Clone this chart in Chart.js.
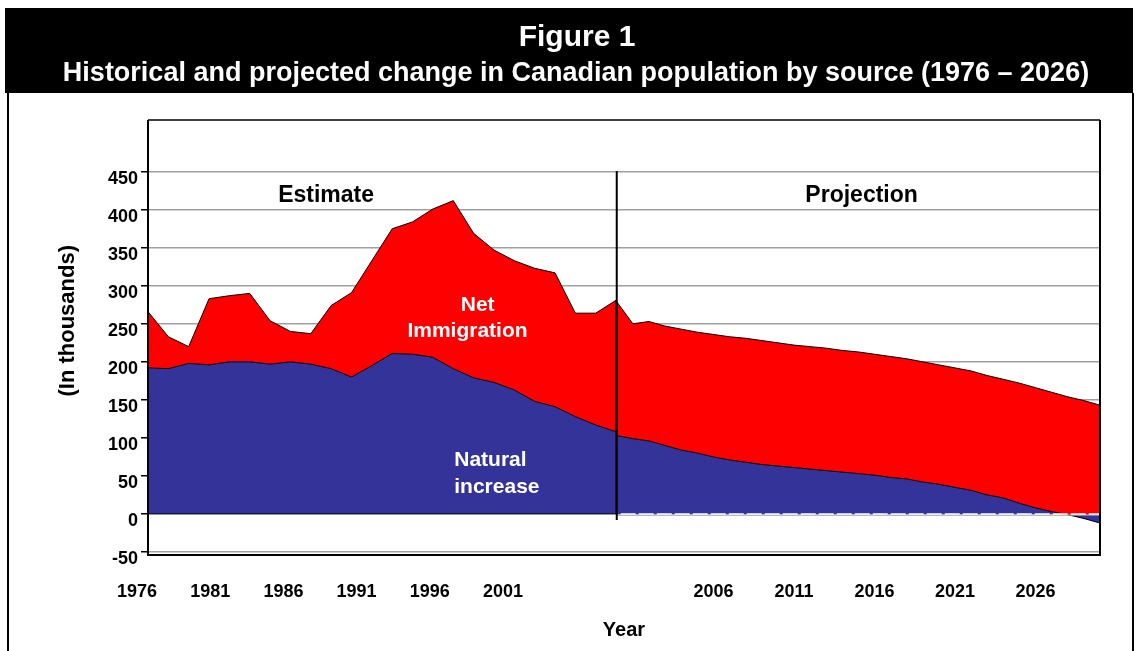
<!DOCTYPE html>
<html>
<head>
<meta charset="utf-8">
<title>Figure 1</title>
<script src="https://cdn.jsdelivr.net/npm/chart.js@4.4.0/dist/chart.umd.min.js"></script>
<style>
  html, body { margin: 0; padding: 0; background: #fff; }
  #chart { display: block; }
</style>
</head>
<body>
<canvas id="chart" width="1141" height="651"></canvas>
<script>
// Components of population growth, thousands per year
const estYears = [1976, 1977, 1978, 1979, 1980, 1981, 1982, 1983, 1984, 1985, 1986, 1987,
                  1988, 1989, 1990, 1991, 1992, 1993, 1994, 1995, 1996, 1997, 1998, 1999];
const estNatural = [192, 191, 198, 196, 200, 200, 197, 200, 197, 191, 180, 195,
                    211, 210, 206, 191, 179, 173, 163, 148, 141, 128, 117, 108];
const estNetImmigration = [74, 42, 22, 87, 87, 90, 57, 40, 40, 83, 111, 138,
                           164, 174, 195, 221, 190, 174, 170, 175, 176, 136, 147, 173];

const projYears = [2000, 2001, 2002, 2003, 2004, 2005, 2006, 2007, 2008, 2009, 2010,
                   2011, 2012, 2013, 2014, 2015, 2016, 2017, 2018, 2019, 2020,
                   2021, 2022, 2023, 2024, 2025, 2026, 2027, 2028, 2029, 2030];
const projNatural = [103, 99, 96, 90, 84, 80, 75, 71, 68, 65, 63,
                     61, 59, 57, 55, 53, 51, 48, 46, 42, 39,
                     35, 31, 25, 21, 14, 8, 3, -1, -6, -12];
const projNetImmigration = [176, 151, 157, 157, 159, 159, 161, 162, 163, 163, 162,
                            161, 161, 161, 160, 160, 159, 159, 158, 158, 157,
                            157, 157, 157, 156, 158, 158, 157, 155, 155, 155];

const estTickYears = [1976, 1981, 1986, 1991, 1996, 2001];
const projTickYears = [2006, 2011, 2016, 2021, 2026];
const yTicks = [-50, 0, 50, 100, 150, 200, 250, 300, 350, 400, 450];

const FONT = '"Liberation Sans", Arial, Helvetica, sans-serif';
const RED = '#ff0000';
const BLUE = '#333399';
const TICK_FONT = { family: FONT, size: 18, weight: 'bold' };
const TICK_PAD = 26;

const pts = (xs, ys) => xs.map((x, i) => ({ x: x, y: ys[i] }));

// text placed inside the plot, in data units of the given x scale
const areaLabels = [
  { text: 'Estimate',    scale: 'xEst',  x: 1984.75, y: 418, color: '#000', size: 23, align: 'center' },
  { text: 'Projection',  scale: 'xProj', x: 2015.2,  y: 418, color: '#000', size: 23, align: 'center' },
  { text: 'Net',         scale: 'xEst',  x: 1992.2,  y: 275, color: '#fff', size: 21, align: 'center' },
  { text: 'Immigration', scale: 'xEst',  x: 1991.7,  y: 240, color: '#fff', size: 21, align: 'center' },
  { text: 'Natural',     scale: 'xEst',  x: 1991.05, y: 70,  color: '#fff', size: 21, align: 'left' },
  { text: 'increase',    scale: 'xEst',  x: 1991.05, y: 35,  color: '#fff', size: 21, align: 'left' }
];

const decor = {
  id: 'decor',
  beforeDraw(chart) {
    const ctx = chart.ctx;
    ctx.save();
    ctx.fillStyle = '#fff';
    ctx.fillRect(0, 0, chart.width, chart.height);
    // header band
    ctx.fillStyle = '#000';
    ctx.fillRect(5, 8, 1128, 85);
    ctx.strokeStyle = '#000';
    ctx.lineWidth = 2;
    ctx.beginPath();
    ctx.moveTo(8, 93); ctx.lineTo(8, chart.height);
    ctx.moveTo(1133, 93); ctx.lineTo(1133, chart.height);
    ctx.stroke();
    ctx.fillStyle = '#fff';
    ctx.textAlign = 'center';
    ctx.textBaseline = 'middle';
    ctx.font = 'bold 30px ' + FONT;
    ctx.fillText('Figure 1', 577, 38);
    ctx.font = 'bold 27px ' + FONT;
    ctx.fillText('Historical and projected change in Canadian population by source (1976 \u2013 2026)', 576, 74);
    ctx.restore();
  },
  afterDatasetsDraw(chart) {
    const ctx = chart.ctx;
    const a = chart.chartArea;
    const { y, xEst, xProj, xLab } = chart.scales;
    const y0 = y.getPixelForValue(0);
    const last = estYears.length - 1;
    const xEstEnd = xEst.getPixelForValue(estYears[last]);
    const xSplit = xProj.getPixelForValue(projYears[0]);
    ctx.save();

    // baseline under the estimates
    ctx.strokeStyle = '#000';
    ctx.lineWidth = 1;
    ctx.beginPath();
    ctx.moveTo(a.left, y0); ctx.lineTo(xEstEnd, y0);
    ctx.moveTo(xEstEnd, y.getPixelForValue(estNatural[last] + estNetImmigration[last]));
    ctx.lineTo(xEstEnd, y0);
    ctx.stroke();

    // dashed zero line across the projection
    ctx.strokeStyle = '#a0a0a0';
    ctx.lineWidth = 1.5;
    ctx.beginPath();
    ctx.moveTo(xSplit, y0 + 1); ctx.lineTo(a.right, y0 + 1);
    ctx.stroke();
    ctx.strokeStyle = '#fff';
    ctx.setLineDash([15, 3]);
    ctx.beginPath();
    ctx.moveTo(xSplit + 4, y0); ctx.lineTo(a.right, y0);
    ctx.stroke();
    ctx.setLineDash([]);

    // estimate / projection divider
    ctx.strokeStyle = '#000';
    ctx.lineWidth = 2;
    ctx.beginPath();
    ctx.moveTo(xSplit, y.getPixelForValue(451));
    ctx.lineTo(xSplit, y.getPixelForValue(-8));
    ctx.stroke();

    // plot frame
    ctx.lineWidth = 1.5;
    ctx.beginPath();
    ctx.moveTo(a.left, a.top); ctx.lineTo(a.right, a.top);
    ctx.stroke();
    ctx.lineWidth = 2;
    ctx.beginPath();
    ctx.moveTo(a.left, a.top); ctx.lineTo(a.left, a.bottom);
    ctx.lineTo(a.right, a.bottom); ctx.lineTo(a.right, a.top);
    ctx.stroke();

    // region and series labels
    ctx.textBaseline = 'middle';
    areaLabels.forEach(l => {
      ctx.font = 'bold ' + l.size + 'px ' + FONT;
      ctx.fillStyle = l.color;
      ctx.textAlign = l.align;
      ctx.fillText(l.text, chart.scales[l.scale].getPixelForValue(l.x), y.getPixelForValue(l.y));
    });

    // year labels under the estimates, on the same row as the projection labels
    ctx.font = 'bold ' + TICK_FONT.size + 'px ' + FONT;
    ctx.fillStyle = '#000';
    ctx.textAlign = 'center';
    const rowY = xProj.top + TICK_PAD + TICK_FONT.size * 1.2 / 2;
    estTickYears.forEach(yr => ctx.fillText(String(yr), xLab.getPixelForValue(yr), rowY));

    // value axis title
    ctx.translate(y.left + 68, y.getPixelForValue(254));
    ctx.rotate(-Math.PI / 2);
    ctx.font = 'bold 22px ' + FONT;
    ctx.fillStyle = '#000';
    ctx.textAlign = 'center';
    ctx.fillText('(In thousands)', 0, 0);
    ctx.restore();
  }
};

new Chart(document.getElementById('chart').getContext('2d'), {
  type: 'line',
  data: {
    datasets: [
      {
        label: 'Natural increase',
        xAxisID: 'xEst',
        data: pts(estYears, estNatural),
        backgroundColor: BLUE,
        borderColor: '#000',
        borderWidth: 1,
        fill: 'origin'
      },
      {
        label: 'Net Immigration',
        xAxisID: 'xEst',
        data: pts(estYears, estNetImmigration),
        backgroundColor: RED,
        borderColor: '#000',
        borderWidth: 1,
        fill: '-1'
      },
      {
        label: 'Natural increase (projected)',
        xAxisID: 'xProj',
        data: pts(projYears, projNatural),
        backgroundColor: BLUE,
        borderColor: '#000',
        borderWidth: 1,
        fill: 'origin'
      },
      {
        label: 'Net Immigration (projected)',
        xAxisID: 'xProj',
        data: pts(projYears, projNetImmigration),
        backgroundColor: RED,
        borderColor: '#000',
        borderWidth: 1,
        fill: '-1'
      }
    ]
  },
  options: {
    responsive: false,
    animation: false,
    events: [],
    layout: { padding: { top: 120, right: 41, bottom: 0, left: 0 } },
    elements: { point: { radius: 0 }, line: { tension: 0 } },
    plugins: { legend: { display: false }, tooltip: { enabled: false } },
    scales: {
      // estimates, one point per year
      xEst: { type: 'linear', display: false, min: 1976, max: 2022.78 },
      // spacing of the year labels under the estimates
      xLab: { type: 'linear', display: false, min: 1976.75, max: 2041.78 },
      // projections, one point per year, with their own year labels
      xProj: {
        type: 'linear',
        position: 'bottom',
        min: 1970.9,
        max: 2030,
        grid: { display: false, drawTicks: false },
        border: { display: false },
        afterBuildTicks: s => { s.ticks = projTickYears.map(v => ({ value: v })); },
        afterFit: s => { s.height = 96; },
        ticks: {
          autoSkip: false,
          maxRotation: 0,
          padding: TICK_PAD,
          color: '#000',
          font: TICK_FONT,
          callback: v => String(v)
        },
        title: {
          display: true,
          text: 'Year',
          color: '#000',
          font: { family: FONT, size: 20, weight: 'bold' },
          padding: { top: 0, bottom: 9 }
        }
      },
      y: {
        type: 'linear',
        stacked: 'single',
        min: -54,
        max: 518,
        afterBuildTicks: s => { s.ticks = yTicks.map(v => ({ value: v })); },
        afterFit: s => { s.width = 148; },
        border: { display: false },
        grid: {
          color: c => (c.tick && c.tick.value === 0 ? 'rgba(0,0,0,0)' : '#a0a0a0'),
          lineWidth: 1.5,
          tickColor: '#000',
          tickLength: 7
        },
        ticks: {
          padding: 3,
          labelOffset: 7,
          color: '#000',
          font: TICK_FONT,
          callback: v => String(v)
        }
      }
    }
  },
  plugins: [decor]
});
</script>
</body>
</html>
